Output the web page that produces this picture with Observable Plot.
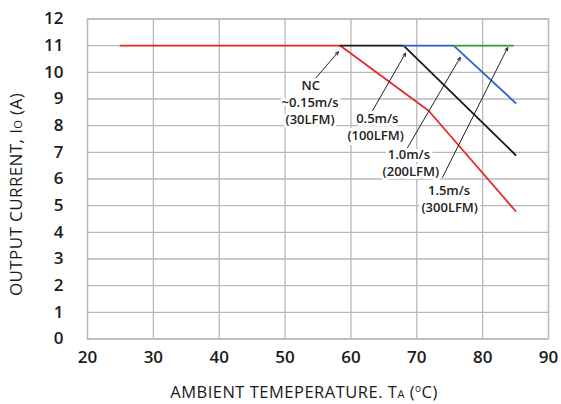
<!DOCTYPE html>
<html>
<head>
<meta charset="utf-8">
<script src="https://cdn.jsdelivr.net/npm/d3@7"></script>
<script src="https://cdn.jsdelivr.net/npm/@observablehq/plot@0.6"></script>
<style>
  html, body { margin: 0; padding: 0; background: #fff; }
  svg { display: block; }
</style>
</head>
<body>
<div id="chart"></div>
<script>
// ---- data ----
const xTicks = [20, 30, 40, 50, 60, 70, 80, 90];
const yTicks = [0, 1, 2, 3, 4, 5, 6, 7, 8, 9, 10, 11, 12];

const seriesNames = ["NC", "0.5m/s", "1.0m/s", "1.5m/s"];
const seriesColors = ["#e8282b", "#1a1a1a", "#2f5fd0", "#3a9a3a"];
const ncTemp = [25, 58.4, 71.8, 85];
const ncCurrent = [11, 11, 8.56, 4.8];
const s05Temp = [58.4, 68.0, 85];
const s05Current = [11, 11, 6.9];
const s10Temp = [68.0, 75.6, 85];
const s10Current = [11, 11, 8.85];
const s15Temp = [75.6, 84.6];
const s15Current = [11, 11];

// annotation arrows (label -> curve)
const arrowX1 = [54.6, 63.0, 68.6, 73.9];
const arrowY1 = [9.77, 8.44, 7.18, 6.06];
const arrowX2 = [58.1, 68.3, 76.6, 83.8];
const arrowY2 = [10.77, 10.72, 10.56, 10.93];

// annotation text lines
const labelText = ["NC", "~0.15m/s", "(30LFM)", "0.5m/s", "(100LFM)", "1.0m/s", "(200LFM)", "1.5m/s", "(300LFM)"];
const labelX = [53.9, 53.8, 53.8, 64.0, 63.75, 68.8, 69.1, 74.9, 75.0];
const labelY = [9.5, 8.85, 8.22, 8.25, 7.62, 6.9, 6.28, 5.56, 4.91];

// ---- build tables ----
const lines = [];
[[ncTemp, ncCurrent], [s05Temp, s05Current], [s10Temp, s10Current], [s15Temp, s15Current]]
  .forEach(([t, c], i) => t.forEach((v, j) => lines.push({series: seriesNames[i], temp: v, current: c[j]})));
const arrows = arrowX1.map((d, i) => ({x1: d, y1: arrowY1[i], x2: arrowX2[i], y2: arrowY2[i]}));
const labels = labelText.map((t, i) => ({text: t, x: labelX[i], y: labelY[i]}));

const font = "'Open Sans', 'Noto Sans', sans-serif";

const chart = Plot.plot({
  width: 561,
  height: 404,
  marginLeft: 87,
  marginRight: 13,
  marginTop: 18.5,
  marginBottom: 65.5,
  style: {fontFamily: font, background: "#fff"},
  x: {domain: [20, 90], label: null},
  y: {domain: [0, 12], label: null},
  color: {domain: seriesNames, range: seriesColors},
  marks: [
    Plot.gridX(xTicks, {stroke: "#b8b8b8", strokeOpacity: 1, strokeWidth: 1.3}),
    Plot.gridY(yTicks, {stroke: "#b8b8b8", strokeOpacity: 1, strokeWidth: 1.3}),
    Plot.frame({stroke: "#b8b8b8", strokeWidth: 1.3}),
    Plot.axisX({ticks: xTicks, tickSize: 0, tickPadding: 12, fontSize: 17, fontWeight: 600, fill: "#1a1a1a", label: null}),
    Plot.axisY({ticks: yTicks, tickSize: 0, tickPadding: 24, fontSize: 17, fontWeight: 600, fill: "#1a1a1a", label: null}),
    Plot.line(lines, {x: "temp", y: "current", z: "series", stroke: "series", strokeWidth: 1.8}),
    Plot.arrow(arrows, {x1: "x1", y1: "y1", x2: "x2", y2: "y2", stroke: "#222", strokeWidth: 1, headLength: 5, headAngle: 50}),
    Plot.text(labels, {x: "x", y: "y", text: "text", fontSize: 13, fontWeight: 600, fill: "#222",
      stroke: "white", strokeWidth: 6, paintOrder: "stroke"})
  ]
});

const svg = d3.select(chart);
// x axis title
const xt = svg.append("text")
  .attr("x", 304).attr("y", 398)
  .attr("text-anchor", "middle")
  .attr("font-family", font).attr("font-size", 16.5).attr("font-weight", 400)
  .attr("letter-spacing", 0.5).attr("fill", "#1a1a1a");
xt.append("tspan").text("AMBIENT TEMEPERATURE. T");
xt.append("tspan").attr("font-size", 11).text("A");
xt.append("tspan").text(" (");
xt.append("tspan").attr("font-size", 10).attr("dy", -6).text("o");
xt.append("tspan").attr("dy", 6).text("C)");

// y axis title
const yt = svg.append("text")
  .attr("transform", "translate(22,194.5) rotate(-90)")
  .attr("text-anchor", "middle")
  .attr("font-family", font).attr("font-size", 17).attr("font-weight", 400)
  .attr("letter-spacing", 0.4).attr("fill", "#1a1a1a");
yt.append("tspan").text("OUTPUT CURRENT, I");
yt.append("tspan").attr("font-size", 11).text("O");
yt.append("tspan").text(" (A)");

document.getElementById("chart").append(chart);
</script>
</body>
</html>
